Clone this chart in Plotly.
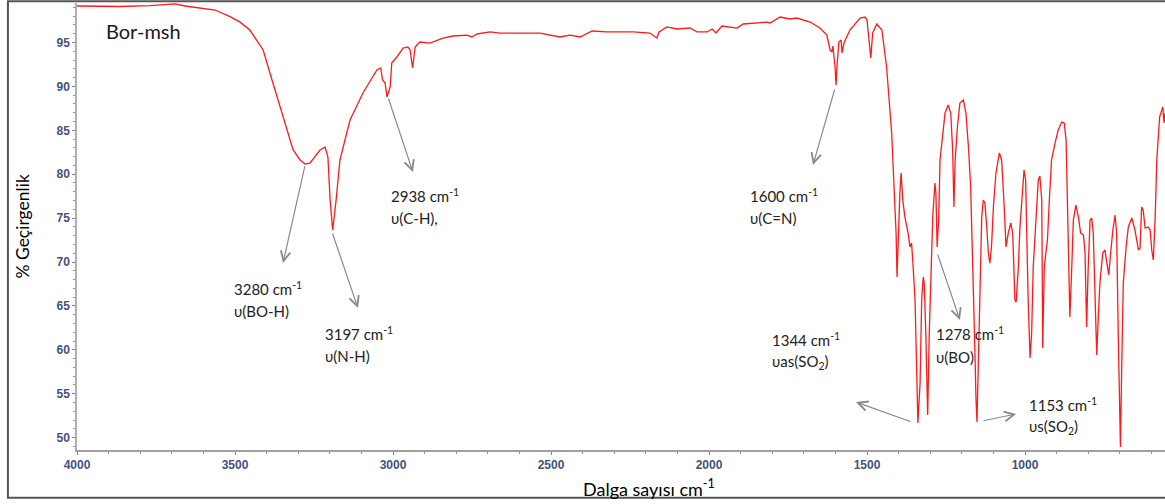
import plotly.graph_objects as go

# Wavenumber (cm-1) and % transmittance
wavenumber = [
    4000, 3927, 3864, 3769, 3722, 3690, 3658, 3611, 3563, 3516,
    3485, 3453, 3411, 3380, 3348, 3316, 3294, 3278, 3263, 3231, 3215,
    3206, 3199, 3191, 3180, 3168, 3136, 3095, 3051, 3039, 3033,
    3025, 3019, 3009, 3004, 2988, 2968, 2953, 2946, 2938, 2930,
    2915, 2883, 2873, 2842, 2810, 2766, 2750, 2734, 2693, 2661,
    2608, 2535, 2472, 2440, 2408, 2370, 2323, 2240, 2187, 2165,
    2158, 2133, 2101, 2060, 2038, 2006, 1990, 1978, 1959, 1924,
    1911, 1892, 1848, 1816, 1807, 1775, 1744, 1722, 1680, 1649,
    1627, 1617, 1611, 1608, 1601, 1598, 1595, 1589, 1582, 1579,
    1573, 1554, 1522, 1506, 1500, 1494, 1488, 1482, 1469, 1453,
    1438, 1422, 1414, 1408, 1405, 1401, 1396, 1392, 1387, 1380,
    1370, 1364, 1359, 1354, 1348, 1343, 1339, 1332, 1327, 1322,
    1319, 1314, 1308, 1303, 1298, 1292, 1285, 1282, 1278, 1273,
    1269, 1261, 1253, 1243, 1235, 1229, 1225, 1221, 1214, 1206,
    1195, 1187, 1179, 1172, 1166, 1160, 1155, 1152, 1148, 1142,
    1137, 1132, 1127, 1121, 1116, 1111, 1106, 1100, 1092, 1081,
    1074, 1067, 1060, 1053, 1045, 1039, 1032, 1028, 1021, 1016,
    1007, 1003, 998, 995, 990, 984, 979, 974, 965, 958,
    953, 947, 944, 939, 934, 929, 923, 916, 905, 895,
    884, 876, 870, 866, 862, 858, 852, 847, 839, 831,
    824, 815, 810, 805, 800, 794, 789, 784, 778, 773,
    768, 763, 754, 747, 739, 735, 729, 722, 715, 710,
    705, 701, 698, 694, 689, 680, 673, 662, 652, 641,
    636, 631, 626, 620, 610, 604, 599, 594, 588, 583,
    574, 567, 564, 560, 557,
]
transmittance = [
    99.16, 99.16, 99.10, 99.20, 99.27, 99.40, 99.16, 98.90, 98.70, 97.94,
    97.35, 96.42, 94.15, 90.39, 86.51, 82.76, 81.62, 81.16, 81.27, 82.76, 83.10,
    81.96, 77.06, 73.64, 77.06, 81.62, 86.17, 89.25, 91.87, 92.10, 90.73,
    90.39, 88.79, 89.93, 92.67, 93.35, 94.37, 94.49, 94.15, 92.10, 94.49,
    95.06, 94.94, 95.06, 95.51, 95.74, 95.85, 95.63, 95.97, 96.20, 96.08,
    96.08, 96.08, 95.63, 95.85, 95.63, 96.31, 96.20, 96.20, 96.08, 95.51,
    96.20, 96.77, 96.54, 96.65, 96.20, 96.20, 96.54, 96.08, 96.88, 96.77,
    96.65, 97.11, 97.22, 97.33, 97.22, 97.90, 97.68, 97.79, 97.33, 96.65,
    95.85, 94.15, 93.92, 94.60, 92.21, 90.16, 92.21, 95.06, 95.28, 93.80,
    94.94, 96.42, 97.79, 97.90, 97.56, 94.94, 93.23, 96.08, 97.11, 96.42,
    92.21, 84.69, 78.54, 73.30, 68.29, 73.99, 77.86, 80.14, 77.06, 75.12,
    73.30, 71.71, 72.16, 69.43, 65.67, 58.04, 51.66, 56.22, 65.67, 68.29,
    67.61, 61.91, 52.57, 61.91, 67.61, 75.12, 79.00, 77.86, 71.71, 75.12,
    81.62, 84.69, 86.97, 87.88, 86.97, 82.76, 76.27, 81.62, 85.38, 88.11,
    88.45, 86.97, 83.10, 78.54, 71.37, 61.91, 54.28, 51.77, 58.04, 69.43,
    75.12, 77.06, 76.72, 73.99, 71.02, 69.88, 71.71, 76.27, 80.14, 82.42,
    81.62, 77.06, 71.71, 73.30, 74.44, 73.30, 65.67, 65.44, 69.43, 73.99,
    79.34, 80.48, 79.34, 73.30, 65.67, 59.06, 61.91, 69.43, 75.58, 79.34,
    79.80, 77.06, 60.20, 69.43, 71.02, 72.50, 77.06, 81.62, 83.55, 85.03,
    85.94, 85.83, 83.89, 77.06, 69.43, 63.74, 69.43, 74.78, 76.49, 75.12,
    73.30, 73.07, 71.02, 62.60, 69.43, 74.78, 75.01, 73.30, 65.67, 59.41,
    63.74, 67.61, 71.02, 71.37, 69.43, 68.52, 71.02, 73.64, 75.35, 73.30,
    61.91, 54.28, 48.93, 58.04, 67.61, 71.71, 73.99, 75.01, 73.64, 71.37,
    71.59, 76.27, 75.92, 73.87, 73.99, 73.64, 71.37, 70.23, 75.12, 81.62,
    86.51, 87.31, 87.65, 85.83, 86.97,
]

x_ticks = [4000, 3500, 3000, 2500, 2000, 1500, 1000]
y_ticks = [50, 55, 60, 65, 70, 75, 80, 85, 90, 95]

# peak labels: (line1, line2, text x, line1 y, line2 y, arrow tail x, tail y, head x, head y)
peak_labels = [
    ("3280 cm<sup>-1</sup>", "υ(BO-H)", 3509, 67.04, 64.42, 3278, 81.05, 3348, 69.89),
    ("3197 cm<sup>-1</sup>", "υ(N-H)", 3222, 61.91, 59.29, 3193, 73.42, 3111, 64.76),
    ("2938 cm<sup>-1</sup>", "υ(C-H),", 3013, 77.63, 75.01, 3016, 88.79, 2937, 80.25),
    ("1600 cm<sup>-1</sup>", "υ(C=N)", 1877, 77.63, 75.01, 1601, 89.82, 1671, 81.05),
    ("1344 cm<sup>-1</sup>", "υas(SO<sub>2</sub>)", 1807, 61.12, 58.62, 1358, 51.77, 1535, 54.05),
    ("1278 cm<sup>-1</sup>", "υ(BO)", 1288, 61.91, 59.18, 1278, 71.02, 1206, 63.39),
    ("1153 cm<sup>-1</sup>", "υs(SO<sub>2</sub>)", 994, 53.82, 51.20, 1136, 51.89, 1028, 52.69),
]

fig = go.Figure()
fig.add_trace(go.Scatter(
    x=wavenumber, y=transmittance, mode="lines",
    line=dict(color="#ff1a1a", width=1.3), showlegend=False, hoverinfo="skip",
))

label_font = dict(family="Lato, Open Sans, sans-serif", size=15, color="#222222")
annotations = []
for l1, l2, tx, y1, y2, ax_, ay_, hx, hy in peak_labels:
    annotations.append(dict(x=tx, y=y1, xref="x", yref="y", text=l1, showarrow=False,
                            xanchor="left", yanchor="middle", font=label_font))
    annotations.append(dict(x=tx, y=y2, xref="x", yref="y", text=l2, showarrow=False,
                            xanchor="left", yanchor="middle", font=label_font))
    annotations.append(dict(x=hx, y=hy, xref="x", yref="y", ax=ax_, ay=ay_,
                            axref="x", ayref="y", text="", showarrow=True,
                            arrowhead=5, arrowsize=1.6, arrowwidth=1.2,
                            arrowcolor="#8a8a8a"))

annotations.append(dict(x=3915, y=96.31, xref="x", yref="y", text="Bor-msh", showarrow=False,
                        xanchor="left", yanchor="middle",
                        font=dict(family="Lato, Open Sans, sans-serif", size=20, color="#1a1a1a")))
annotations.append(dict(x=0.526, y=-0.085, xref="paper", yref="paper",
                        text="Dalga sayısı cm<sup>-1</sup>", showarrow=False,
                        xanchor="center", yanchor="middle",
                        font=dict(family="Lato, Open Sans, sans-serif", size=18, color="#000000")))
annotations.append(dict(x=-0.0505, y=0.5, xref="paper", yref="paper",
                        text="% Geçirgenlik", showarrow=False, textangle=-90,
                        xanchor="center", yanchor="middle",
                        font=dict(family="Lato, Open Sans, sans-serif", size=17.5, color="#000000")))

tick_font = dict(family="Liberation Sans, Arial, sans-serif", size=12, color="#44527a",
                 weight="bold")

fig.update_layout(
    width=1165, height=504,
    margin=dict(l=77, r=0, t=3, b=54),
    paper_bgcolor="white", plot_bgcolor="white",
    annotations=annotations,
    shapes=[dict(type="rect", xref="paper", yref="paper",
                 x0=-0.0635, x1=1.01, y0=-0.107, y1=1.004,
                 line=dict(color="#555555", width=2), layer="below")],
    xaxis=dict(range=[4000, 557], tickvals=x_ticks, ticktext=[str(v) for v in x_ticks],
               showgrid=False, zeroline=False, showline=True, linecolor="#a0a0a0", linewidth=2,
               ticks="outside", ticklen=3, tickcolor="#808080", tickfont=tick_font,
               minor=dict(dtick=100, ticks="outside", ticklen=2, tickcolor="#909090"),
               fixedrange=True),
    yaxis=dict(range=[48.59, 99.5], tickvals=y_ticks, ticktext=[str(v) for v in y_ticks],
               showgrid=False, zeroline=False, showline=True, linecolor="#b0b0b0", linewidth=1.5,
               ticks="outside", ticklen=3, tickcolor="#808080", tickfont=tick_font,
               minor=dict(dtick=1, ticks="outside", ticklen=2, tickcolor="#909090"),
               fixedrange=True),
)

fig.write_html("out.html", config={"displayModeBar": False},
               post_script="document.body.style.margin='0';document.body.style.overflow='hidden';")
